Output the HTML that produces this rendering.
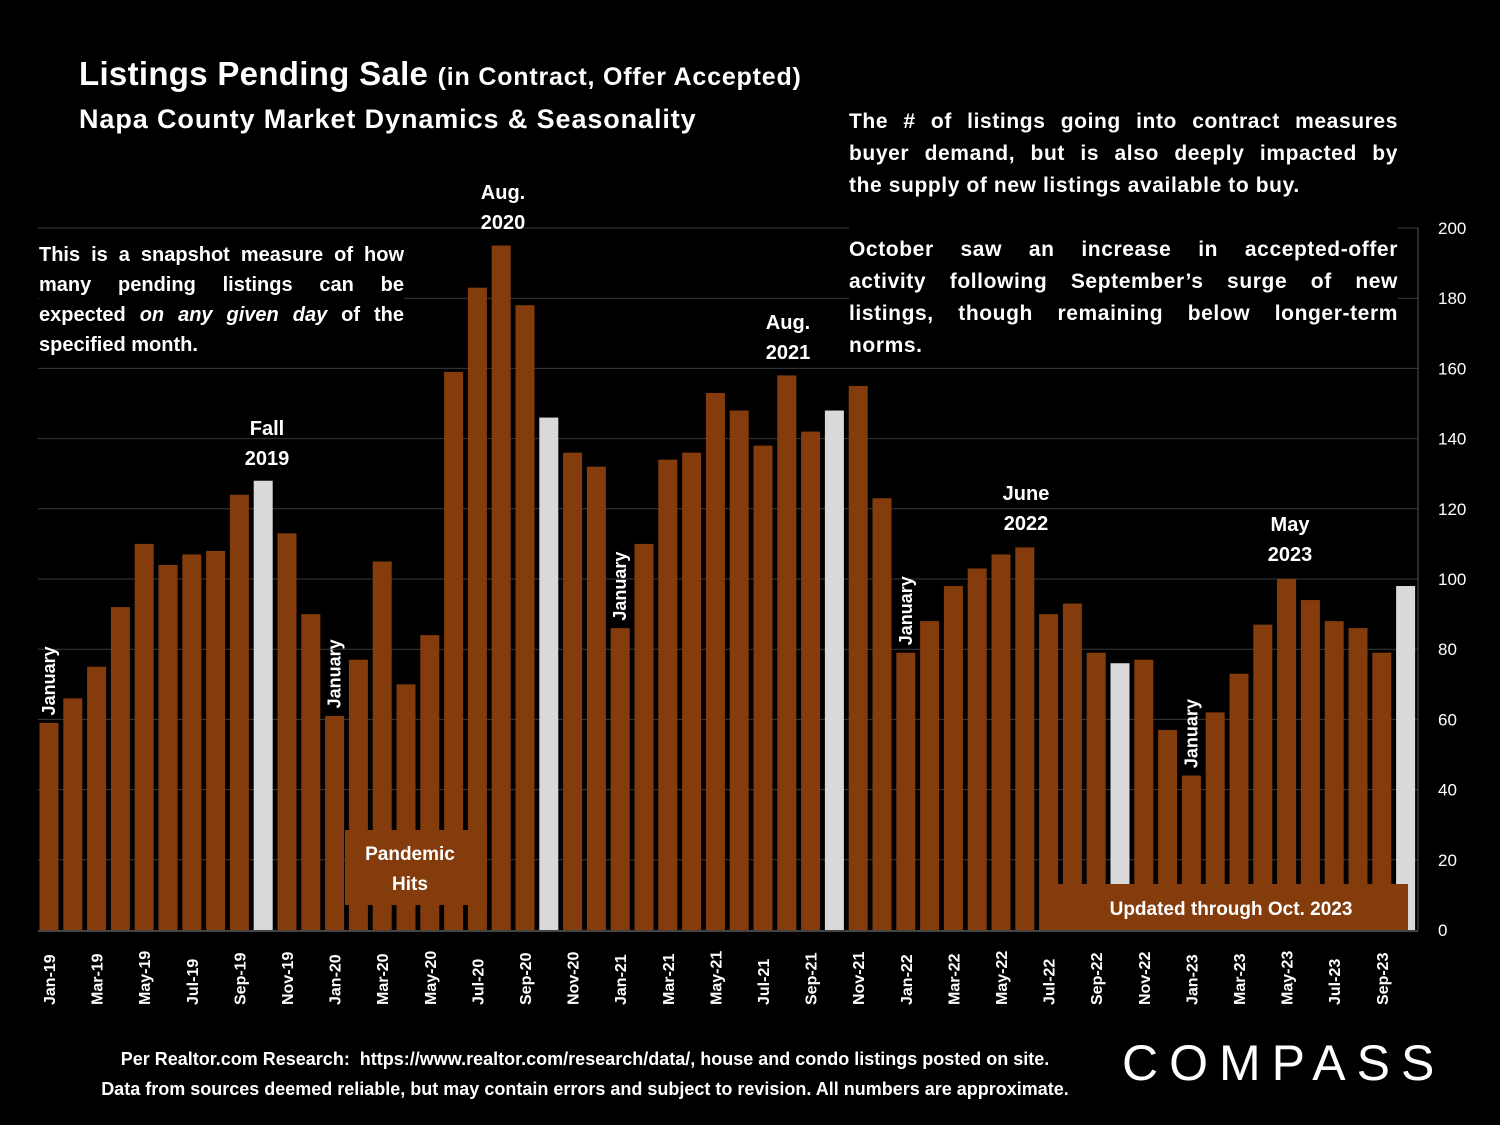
<!DOCTYPE html>
<html><head><meta charset="utf-8"><style>
body{margin:0;background:#000;width:1500px;height:1125px;overflow:hidden;font-family:"Liberation Sans",sans-serif;color:#fff}
.t{position:absolute;font-weight:bold;white-space:nowrap}
.p{position:absolute;font-weight:bold;font-size:21px;line-height:32px}
.p div{text-align:justify;text-align-last:justify;white-space:nowrap}
.p div.l{text-align-last:left}
</style></head><body>
<div class="t" style="left:79px;top:55px;font-size:33px;letter-spacing:0.3px">Listings Pending Sale <span style="font-size:25px;letter-spacing:0.8px">(in Contract, Offer Accepted)</span></div>
<div class="t" style="left:79px;top:104px;font-size:27px;letter-spacing:0.9px">Napa County Market Dynamics &amp; Seasonality</div>
<svg id="c" width="1500" height="1125" style="position:absolute;left:0;top:0"></svg>
<div class="p" style="left:849px;top:106px;width:549px;background:#000;letter-spacing:0.6px">
<div>The # of listings going into contract measures</div>
<div>buyer demand, but is also deeply impacted by</div>
<div class="l">the supply of new listings available to buy.</div>
<div>&nbsp;</div>
<div>October saw an increase in accepted-offer</div>
<div>activity following September’s surge of new</div>
<div>listings, though remaining below longer-term</div>
<div class="l">norms.</div>
</div>
<div class="p" style="left:39px;top:240px;width:365px;font-size:20px;line-height:30px;background:#000;text-align:justify;text-align-last:left">This is a snapshot measure of how many pending listings can be expected <i>on any given day</i> of the specified month.</div>
<div class="t" style="left:0;width:1170px;text-align:center;top:1044px;font-size:18px;line-height:30px">Per Realtor.com Research:&nbsp; https://www.realtor.com/research/data/, house and condo listings posted on site.<br>Data from sources deemed reliable, but may contain errors and subject to revision. All numbers are approximate.</div>
<div class="t" style="left:1122px;top:1034px;font-size:50px;font-weight:normal;letter-spacing:11px">COMPASS</div>
<script>
const labels=["Jan-19","Feb-19","Mar-19","Apr-19","May-19","Jun-19","Jul-19","Aug-19","Sep-19","Oct-19","Nov-19","Dec-19","Jan-20","Feb-20","Mar-20","Apr-20","May-20","Jun-20","Jul-20","Aug-20","Sep-20","Oct-20","Nov-20","Dec-20","Jan-21","Feb-21","Mar-21","Apr-21","May-21","Jun-21","Jul-21","Aug-21","Sep-21","Oct-21","Nov-21","Dec-21","Jan-22","Feb-22","Mar-22","Apr-22","May-22","Jun-22","Jul-22","Aug-22","Sep-22","Oct-22","Nov-22","Dec-22","Jan-23","Feb-23","Mar-23","Apr-23","May-23","Jun-23","Jul-23","Aug-23","Sep-23","Oct-23"];
const values=[59,66,75,92,110,104,107,108,124,128,113,90,61,77,105,70,84,159,183,195,178,146,136,132,86,110,134,136,153,148,138,158,142,148,155,123,79,88,98,103,107,109,90,93,79,76,77,57,44,62,73,87,100,94,88,86,79,98];
const highlight=["Oct-19","Oct-20","Oct-21","Oct-22","Oct-23"];
const yTicks=[0,20,40,60,80,100,120,140,160,180,200];
const svg=document.getElementById('c');const NS='http://www.w3.org/2000/svg';
const y=v=>930-v*3.51;const x=i=>49+i*23.8;const bw=19;
function mk(t,a){const e=document.createElementNS(NS,t);for(const k in a)e.setAttribute(k,a[k]);svg.appendChild(e);return e;}
yTicks.forEach(v=>{
 if(v>0){const g=mk('line',{x1:38,x2:1418,y1:y(v),y2:y(v),stroke:'#3a3a3a','stroke-width':1});
 
 }
 const t=mk('text',{x:1438,y:y(v)+6,fill:'#fff','font-size':17,'font-family':'Liberation Sans'});t.textContent=v;
 
 
});
mk('line',{x1:1418,x2:1418,y1:228,y2:930,stroke:'#555'});
mk('line',{x1:38,x2:1418,y1:931,y2:931,stroke:'#888'});
values.forEach((v,i)=>{
 const r=mk('rect',{x:x(i)-bw/2,y:y(v),width:bw,height:930-y(v),fill:highlight.includes(labels[i])?'#d9d9d9':'#843c0c'});
 
 
 if(i%2==0){const t=mk('text',{transform:`translate(${x(i)+6},${1005}) rotate(-90)`,fill:'#fff','font-size':16,'font-weight':'bold','font-family':'Liberation Sans'});t.textContent=labels[i];
 
 }
});
function box(x1,y1,w,h,name){const r=mk('rect',{x:x1,y:y1,width:w,height:h,fill:'#843c0c'});}
box(345,830,142,75,'pandemic-box');box(1043,884,365,46,'updated-box');
function txt(s,tx,ty,size,rot,name){const a={x:tx,y:ty,fill:'#fff','font-size':size,'font-weight':'bold','font-family':'Liberation Sans','text-anchor':'middle'};if(rot)a.transform=`rotate(-90 ${tx} ${ty})`;const t=mk('text',a);t.textContent=s;}
txt('Pandemic',410,860,19,0,'pandemic-label');txt('Hits',410,890,19,0,'pandemic-label');
txt('Updated through Oct. 2023',1231,915,19,0,'updated-label');
[0,12,24,36,48].forEach(k=>{txt('January',x(k)+6,y(values[k])-42,18,1,'january-label');});
txt('Fall',267,435,20,0,'annot-fall-2019');txt('2019',267,465,20,0,'annot-fall-2019');
txt('Aug.',503,199,20,0,'annot-aug-2020');txt('2020',503,229,20,0,'annot-aug-2020');
txt('Aug.',788,329,20,0,'annot-aug-2021');txt('2021',788,359,20,0,'annot-aug-2021');
txt('June',1026,500,20,0,'annot-june-2022');txt('2022',1026,530,20,0,'annot-june-2022');
txt('May',1290,531,20,0,'annot-may-2023');txt('2023',1290,561,20,0,'annot-may-2023');
</script>
</body></html>
